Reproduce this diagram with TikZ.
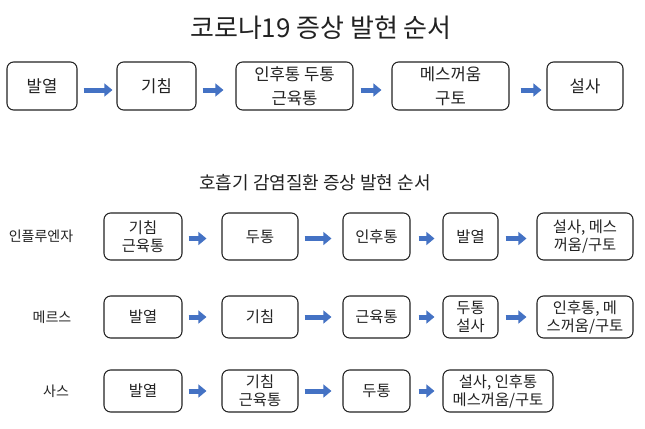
\documentclass[tikz,border=0pt]{standalone}
\usepackage{fontspec}
\setmainfont{Noto Sans CJK KR}
\usetikzlibrary{arrows.meta,calc}
\definecolor{arrblue}{HTML}{4472C4}
\definecolor{ink}{HTML}{222222}
\begin{document}
\begin{tikzpicture}[x=0.75pt,y=-0.75pt,
  box/.style={draw=ink, line width=0.8pt, rounded corners=5pt, align=center, inner sep=0pt, text=ink},
  topbox/.style={box, minimum height=36pt, font=\fontsize{12.5}{18}\selectfont},
  rowbox/.style={box, font=\fontsize{11.5}{13.5}\selectfont},
  bw/.style={minimum width=#1*0.75pt},
  bh/.style={minimum height=#1*0.75pt},
  rowlabel/.style={text=ink, inner sep=0pt, font=\fontsize{10.5}{12}\selectfont},
  blockarrow/.style={draw=arrblue, line width=3.75pt, -{Triangle[length=6pt,width=9.5pt]}}]
\useasboundingbox[fill=white] (0,0) rectangle (645,428);

% titles
\node[text=ink, inner sep=0pt, font=\fontsize{19.5}{22}\selectfont] (title) at (321,28) {코로나19 증상 발현 순서};
\node[text=ink, inner sep=0pt, font=\fontsize{13.5}{16}\selectfont] (subtitle) at (315,183) {호흡기 감염질환 증상 발현 순서};

% top row
\node[topbox, bw=70]  (t1) at (42,86)    {발열};
\node[topbox, bw=79]  (t2) at (156.5,86) {기침};
\node[topbox, bw=117] (t3) at (294.5,86) {인후통 두통\\근육통};
\node[topbox, bw=117] (t4) at (450.5,86) {메스꺼움\\구토};
\node[topbox, bw=76]  (t5) at (585,86)   {설사};

\draw[blockarrow, shorten <=4.5pt, shorten >=3pt]  ($(t1.east)+(0,4)$) -- ($(t2.west)+(0,4)$);
\draw[blockarrow, shorten <=4.5pt, shorten >=9pt]  ($(t2.east)+(0,4)$) -- ($(t3.west)+(0,4)$);
\draw[blockarrow, shorten <=5.25pt, shorten >=7.5pt] ($(t3.east)+(0,4)$) -- ($(t4.west)+(0,4)$);
\draw[blockarrow, shorten <=8.25pt, shorten >=3.75pt] ($(t4.east)+(0,4)$) -- ($(t5.west)+(0,4)$);

% row labels
\node[rowlabel] (l1) at (41,236) {인플루엔자};
\node[rowlabel] (l2) at (52,317) {메르스};
\node[rowlabel] (l3) at (56,391) {사스};

% row 1: influenza
\node[rowbox, bw=78, bh=47] (a1) at (143,236.5)   {기침\\근육통};
\node[rowbox, bw=76, bh=47] (a2) at (260,236.5)   {두통};
\node[rowbox, bw=67, bh=47] (a3) at (376.5,236.5) {인후통};
\node[rowbox, bw=55, bh=47] (a4) at (470.5,236.5) {발열};
\node[rowbox, bw=96, bh=47] (a5) at (585,236.5)   {설사, 메스\\꺼움/구토};

% row 2: MERS
\node[rowbox, bw=78, bh=42] (b1) at (143,317)   {발열};
\node[rowbox, bw=76, bh=42] (b2) at (260,317)   {기침};
\node[rowbox, bw=67, bh=42] (b3) at (376.5,317) {근육통};
\node[rowbox, bw=55, bh=42] (b4) at (470.5,317) {두통\\설사};
\node[rowbox, bw=96, bh=42] (b5) at (585,317)   {인후통, 메\\스꺼움/구토};

% row 3: SARS
\node[rowbox, bw=78, bh=42] (c1) at (143,391)   {발열};
\node[rowbox, bw=76, bh=42] (c2) at (260,391)   {기침\\근육통};
\node[rowbox, bw=67, bh=42] (c3) at (376.5,391) {두통};
\node[rowbox, bw=110, bh=42] (c4) at (498,391)  {설사, 인후통\\메스꺼움/구토};

\foreach \r/\dy in {a/2, b/0, c/0} {
  \draw[blockarrow, shorten <=4.5pt, shorten >=11.25pt] ($(\r1.east)+(0,\dy)$) -- ($(\r2.west)+(0,\dy)$);
  \draw[blockarrow, shorten <=4.5pt, shorten >=8.25pt]  ($(\r2.east)+(0,\dy)$) -- ($(\r3.west)+(0,\dy)$);
  \draw[blockarrow, shorten <=6pt, shorten >=6pt]       ($(\r3.east)+(0,\dy)$) -- ($(\r4.west)+(0,\dy)$);
}
\draw[blockarrow, shorten <=5.25pt, shorten >=7.5pt] ($(a4.east)+(0,2)$) -- ($(a5.west)+(0,2)$);
\draw[blockarrow, shorten <=5.25pt, shorten >=7.5pt] (b4.east) -- (b5.west);
\end{tikzpicture}
\end{document}
